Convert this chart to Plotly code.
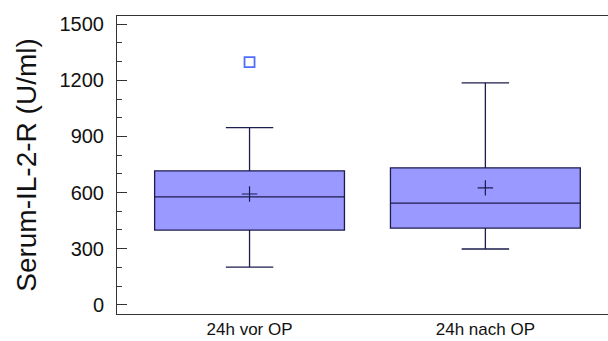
import plotly.graph_objects as go

categories = ["24h vor OP", "24h nach OP"]
q1 = [399, 410]
median = [577, 543]
q3 = [716, 732]
lower_whisker = [201, 298]
upper_whisker = [947, 1186]
means = [592, 625]
outlier_x = ["24h vor OP"]
outlier_y = [1297]

y_ticks = [0, 300, 600, 900, 1200, 1500]

fill = "#9999FF"
edge = "#1C1C4E"

fig = go.Figure()
fig.add_trace(go.Box(
    x=categories, q1=q1, median=median, q3=q3,
    lowerfence=lower_whisker, upperfence=upper_whisker,
    fillcolor=fill, line=dict(color=edge, width=1.3),
    width=0.805, whiskerwidth=0.25, boxpoints=False, showlegend=False,
))
fig.add_trace(go.Scatter(
    x=categories, y=means, mode="markers",
    marker=dict(symbol="cross-thin", size=11, line=dict(color=edge, width=1.2)),
    showlegend=False,
))
fig.add_trace(go.Scatter(
    x=outlier_x, y=outlier_y, mode="markers",
    marker=dict(symbol="square-open", size=10, color="#4F6EFF", line=dict(width=1.8)),
    showlegend=False,
))

fig.update_layout(
    width=608, height=341,
    margin=dict(l=117, r=0, t=16, b=27),
    plot_bgcolor="white", paper_bgcolor="white",
    font=dict(family="Liberation Sans, Arial", color="#111"),
)
fig.update_xaxes(
    type="category", range=[-0.562, 1.52], automargin=False,
    showline=True, linecolor="#333", linewidth=1, mirror=True,
    ticks="", showgrid=False, tickfont=dict(size=17),
    ticklabelstandoff=0,
)
fig.update_yaxes(
    range=[-49.7, 1544], tickvals=y_ticks, automargin=False,
    showline=True, linecolor="#333", linewidth=1,
    ticks="inside", ticklen=10, tickcolor="#333", showgrid=False, zeroline=False,
    minor=dict(dtick=100, tick0=0, ticks="inside", ticklen=5, tickcolor="#333", showgrid=False),
    tickfont=dict(size=20), ticklabelstandoff=8,
    title=dict(text="Serum-IL-2-R (U/ml)", font=dict(size=28), standoff=14),
)

fig.write_html("out.html")
